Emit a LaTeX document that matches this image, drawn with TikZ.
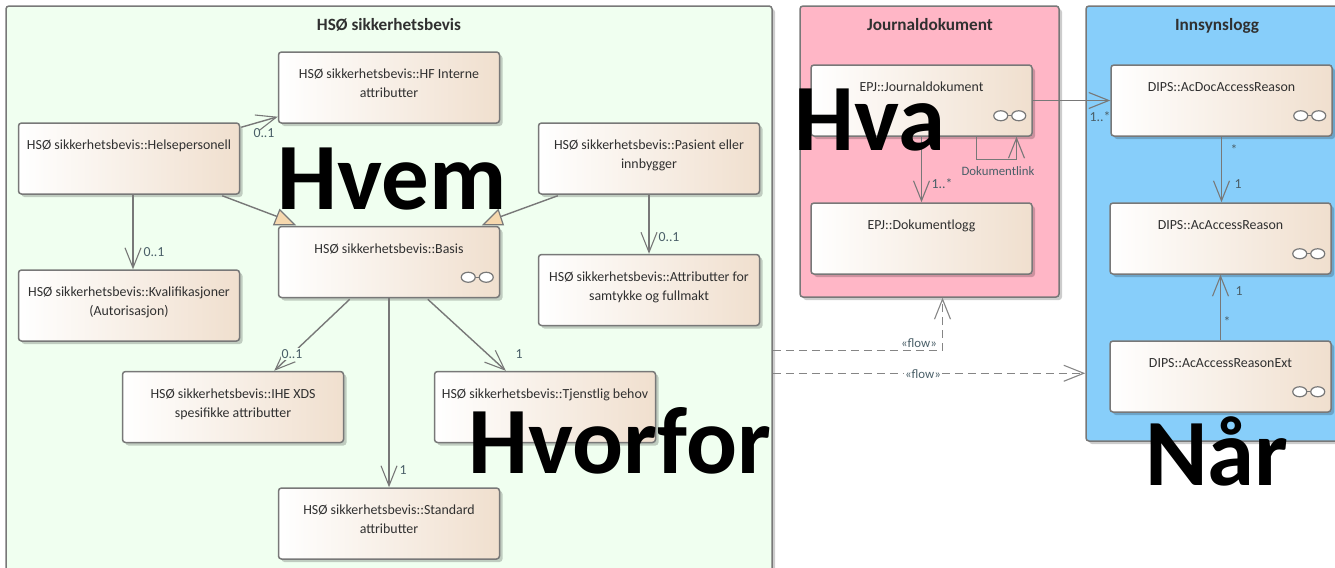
\documentclass[tikz,border=0pt]{standalone}
\usepackage{fontspec}
\setmainfont{Carlito}
\usepackage{tikz}
\usetikzlibrary{arrows.meta}
\usetikzlibrary{calc}
\usetikzlibrary{shadows}

\definecolor{hsogreen}{HTML}{F0FFF0}
\definecolor{journalpink}{HTML}{FFB6C6}
\definecolor{innsynblue}{HTML}{87CEFA}
\definecolor{boxtan}{HTML}{F0DFCE}
\definecolor{linegrey}{HTML}{787878}
\definecolor{textgrey}{HTML}{303030}
\definecolor{multgrey}{HTML}{4A5F68}
\definecolor{tiptan}{HTML}{F6D8AE}

\newcommand{\classtext}[1]{\parbox[c][35.5pt][t]{108pt}{\centering\vspace*{8.6pt}#1\par}}

\tikzset{
  framebox/.style={draw=linegrey,line width=0.75pt,rounded corners=1.5pt,inner sep=0pt,
    drop shadow={shadow xshift=1.5pt,shadow yshift=-1.5pt,fill=black,opacity=0.2}},
  classbox/.style={draw=linegrey,line width=0.75pt,rounded corners=1.5pt,inner sep=0pt,
    minimum width=110.5pt,minimum height=35.5pt,left color=white,right color=boxtan,
    text=textgrey,font=\fontsize{6.95}{9.5}\selectfont,
    drop shadow={shadow xshift=1.5pt,shadow yshift=-1.5pt,fill=black,opacity=0.2}},
  frametitle/.style={text=textgrey,inner sep=0pt,anchor=base,font=\fontsize{8.6}{10}\selectfont\bfseries},
  assoc/.style={draw=linegrey,line width=0.7pt,-{Straight Barb[length=10pt,width=8pt,line width=0.55pt]}},
  plainline/.style={draw=linegrey,line width=0.7pt},
  flowline/.style={draw=linegrey!90,line width=0.7pt,dash pattern=on 4pt off 2.5pt,-{Straight Barb[length=10pt,width=8pt,line width=0.55pt]}},
  gentip/.style={draw=linegrey,line width=0.6pt,fill=tiptan},
  mult/.style={text=multgrey,inner sep=0.5pt,font=\fontsize{6.9}{8}\selectfont},
  linktext/.style={text=multgrey,inner sep=0.5pt,font=\fontsize{6.4}{8}\selectfont},
  bigword/.style={text=black,inner sep=0pt,anchor=base,font=\fontsize{47.5}{50}\selectfont\bfseries},
  glasses/.pic={
    \draw[linegrey,line width=0.6pt] (-9,0) -- (9,0);
    \draw[linegrey,line width=0.6pt,fill=white] (-9,0) ellipse [x radius=7,y radius=5];
    \draw[linegrey,line width=0.6pt,fill=white] (9,0) ellipse [x radius=7,y radius=5];
  }
}

\begin{document}
\begin{tikzpicture}[x=0.5pt,y=0.5pt,yscale=-1,xscale=1]
\useasboundingbox (0,0) rectangle (1335,568);

%Shape: Frames
\node [framebox,fill=hsogreen,minimum width=383pt,minimum height=307pt] (hsoframe) at (389,313) {};
\node [framebox,fill=journalpink,minimum width=129.5pt,minimum height=145.5pt] (journalframe) at (929.5,151.5) {};
\node [framebox,fill=innsynblue,minimum width=130pt,minimum height=217.5pt] (innsynframe) at (1216,223.5) {};

% Text Node
\node [frametitle] (hsotitle) at (389,30) {HSØ sikkerhetsbevis};
\node [frametitle] (journaltitle) at (930,30) {Journaldokument};
\node [frametitle] (innsyntitle) at (1217,30) {Innsynslogg};

%Shape: Classes
\node [classbox] (hfinterne) at (389,87.5) {\classtext{HSØ sikkerhetsbevis::HF Interne\\attributter}};
\node [classbox] (helse) at (129,158.5) {\classtext{HSØ sikkerhetsbevis::Helsepersonell}};
\node [classbox] (pasient) at (649,158.5) {\classtext{HSØ sikkerhetsbevis::Pasient eller\\innbygger}};
\node [classbox] (basis) at (389,262) {\classtext{HSØ sikkerhetsbevis::Basis}};
\node [classbox] (kval) at (129,305.5) {\classtext{HSØ sikkerhetsbevis::Kvalifikasjoner\\(Autorisasjon)}};
\node [classbox] (attributt) at (649,290) {\classtext{HSØ sikkerhetsbevis::Attributter for\\samtykke og fullmakt}};
\node [classbox] (ihe) at (233,407) {\classtext{HSØ sikkerhetsbevis::IHE XDS\\spesifikke attributter}};
\node [classbox] (tjenstlig) at (545,407) {\classtext{HSØ sikkerhetsbevis::Tjenstlig behov}};
\node [classbox] (standard) at (389,523.5) {\classtext{HSØ sikkerhetsbevis::Standard\\attributter}};
\node [classbox] (journal) at (921.5,100.5) {\classtext{EPJ::Journaldokument}};
\node [classbox] (dokumentlogg) at (921.5,238.5) {\classtext{EPJ::Dokumentlogg}};
\node [classbox] (acdoc) at (1221.5,100.5) {\classtext{DIPS::AcDocAccessReason}};
\node [classbox] (acaccess) at (1220.5,238.5) {\classtext{DIPS::AcAccessReason}};
\node [classbox] (acext) at (1220.5,376.5) {\classtext{DIPS::AcAccessReasonExt}};

%Shape: Glasses
\foreach \boxname in {basis,journal,acdoc,acaccess,acext}
  \pic at ($(\boxname.south east)+(-23,-21)$) {glasses};

%Straight Lines
\draw [assoc] ($(helse.north east)+(1,5)$) -- ($(hfinterne.south west)+(0,-7)$);
\draw [assoc] ($(helse.south)+(4,0)$) -- ($(kval.north)+(4,0)$);
\draw [assoc] (pasient.south) -- (attributt.north);
\draw [assoc] ($(basis.south west)+(72,1)$) -- ($(ihe.north east)+(-70,0)$);
\draw [assoc] ($(basis.south west)+(150,1)$) -- ($(tjenstlig.north west)+(72,0)$);
\draw [assoc] (basis.south) -- (standard.north);
\draw [plainline] ($(helse.south east)+(-18,1)$) -- ($(basis.north west)+(0,-9)$);
\draw [plainline] ($(pasient.south west)+(20,1)$) -- ($(basis.north east)+(0,-9)$);
\draw [gentip] ($(basis.north west)+(-4,-1)$) -- ($(basis.north west)+(17,-1)$) -- ($(basis.north west)+(2,-16)$) -- cycle;
\draw [gentip] ($(basis.north east)+(-17,-1)$) -- ($(basis.north east)+(3,-1)$) -- ($(basis.north east)+(-2,-16)$) -- cycle;

\draw [assoc] (journal.south) -- (dokumentlogg.north);
\draw [assoc] ($(journal.south)+(55,0)$) -- ++(0,23) -- ++(40,0) -- ($(journal.south)+(95,0)$);
\draw [assoc] (journal.east) -- (acdoc.west);
\draw [assoc] (acdoc.south) -- (acdoc.south |- acaccess.north);
\draw [assoc] (acext.north) -- (acaccess.south);

%Dashed Lines
\coordinate (flowone) at ($(hsoframe.north east)+(0,345)$);
\coordinate (flowtwo) at ($(hsoframe.north east)+(0,368)$);
\draw [flowline] (flowone) -| ($(journalframe.south)+(13,0)$);
\draw [flowline] (flowtwo) -- (flowtwo -| innsynframe.west);

% Text Node
\node [mult] (helsehf) at (264,133) {0..1};
\node [mult] (helsekval) at (154,252) {0..1};
\node [mult,fill=hsogreen] (basisihe) at (292,354) {0..1};
\node [mult] (basistjen) at (519,354) {1};
\node [mult] (basisstd) at (403,470) {1};
\node [mult] (pasientattr) at (669,237) {0..1};
\node [mult] (journallogg) at (942,184) {1..*};
\node [linktext] (dokumentlink) at (998,171) {Dokumentlink};
\node [mult] (journalacdoc) at (1100,117) {1..*};
\node [mult] (acdocstar) at (1234,150) {*};
\node [mult] (acdocone) at (1238,184) {1};
\node [mult] (extstar) at (1227,322) {*};
\node [mult] (extone) at (1239,291) {1};
\node [linktext,fill=white] (flowlabelone) at (919,343) {«flow»};
\node [linktext,fill=white] (flowlabeltwo) at (923,374) {«flow»};

% Text Node
\node [bigword] (hvem) at (392,209) {Hvem};
\node [bigword] (hva) at (870,150) {Hva};
\node [bigword] (hvorfor) at (620,473) {Hvorfor};
\node [bigword] (naar) at (1217,485) {Når};

\end{tikzpicture}
\end{document}
